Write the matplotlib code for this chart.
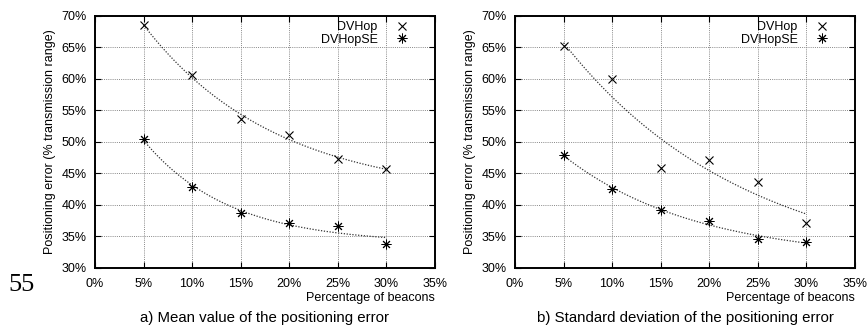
import numpy as np
import matplotlib
matplotlib.use("Agg")
import matplotlib.pyplot as plt
from matplotlib.ticker import FuncFormatter, MultipleLocator

# Percentage of beacons
beacons = [5, 10, 15, 20, 25, 30]

# a) mean value of the positioning error (% of transmission range)
mean_dvhop = [68.5, 60.6, 53.6, 51.1, 47.3, 45.7]
mean_dvhopse = [50.4, 42.9, 38.8, 37.2, 36.7, 33.8]

# b) standard deviation of the positioning error (% of transmission range)
std_dvhop = [65.2, 60.0, 45.9, 47.1, 43.6, 37.2]
std_dvhopse = [47.9, 42.6, 39.2, 37.4, 34.6, 34.1]

series_labels = ["DVHop", "DVHopSE"]
captions = ["a) Mean value of the positioning error",
            "b) Standard deviation of the positioning error"]
xlabel = "Percentage of beacons"
ylabel = "Positioning error (% transmission range)"

plt.rcParams["font.family"] = ["Liberation Sans", "DejaVu Sans"]


def exp_fit(x, y):
    """Least-squares fit of y = a*exp(-b*x) + c (grid over b, linear in a, c)."""
    x = np.asarray(x, float)
    y = np.asarray(y, float)
    best = None
    for b in np.linspace(0.001, 0.4, 2000):
        A = np.column_stack([np.exp(-b * x), np.ones_like(x)])
        coef, *_ = np.linalg.lstsq(A, y, rcond=None)
        err = np.sum((A @ coef - y) ** 2)
        if best is None or err < best[0]:
            best = (err, b, coef)
    _, b, (a, c) = best
    return lambda t: a * np.exp(-b * t) + c


W, H = 868, 327
fig = plt.figure(figsize=(W / 100, H / 100), dpi=100)
ax_pos = [[95 / W, 59 / H, 340 / W, 252 / H],
          [515 / W, 59 / H, 340 / W, 252 / H]]
panels = [(mean_dvhop, mean_dvhopse), (std_dvhop, std_dvhopse)]
pct = FuncFormatter(lambda v, _: f"{v:.0f}%")
asterisk = (8, 2, 0)
fs = 9

for pos, (s1, s2), cap in zip(ax_pos, panels, captions):
    ax = fig.add_axes(pos)
    xs = np.linspace(min(beacons), max(beacons), 200)
    for ys in (s1, s2):
        f = exp_fit(beacons, ys)
        ax.plot(xs, f(xs), ls=(0, (1, 1.3)), color="#333333", lw=0.9, zorder=2)
    ax.plot(beacons, s1, ls="none", marker="x", ms=6, mew=0.8,
            color="black", label=series_labels[0], zorder=3)
    ax.plot(beacons, s2, ls="none", marker=asterisk, ms=7, mew=0.7,
            color="black", label=series_labels[1], zorder=3)

    ax.set_xlim(0, 35)
    ax.set_ylim(30, 70)
    ax.xaxis.set_major_locator(MultipleLocator(5))
    ax.yaxis.set_major_locator(MultipleLocator(5))
    ax.xaxis.set_major_formatter(pct)
    ax.yaxis.set_major_formatter(pct)
    ax.grid(True, ls=(0, (1, 1.2)), color="#888888", lw=0.7)
    ax.set_axisbelow(True)
    ax.tick_params(direction="in", length=4, width=0.8, labelsize=fs,
                   top=True, right=True, colors="black")
    ax.tick_params(axis="x", pad=7)
    ax.tick_params(axis="y", pad=6)
    for sp in ax.spines.values():
        sp.set_linewidth(1.4)
    ax.set_ylabel(ylabel, fontsize=fs)
    ax.yaxis.set_label_coords(-45 / 340, 0.5)
    ax.yaxis.label.set_verticalalignment("center")
    ax.set_xlabel(xlabel, fontsize=fs)
    ax.xaxis.set_label_coords(1.0, -30 / 252)
    ax.xaxis.label.set_horizontalalignment("right")
    ax.xaxis.label.set_verticalalignment("center")

    ax.legend(loc="upper right", bbox_to_anchor=(1 - 20 / 340, 1),
              frameon=False, markerfirst=False,
              fontsize=fs, handlelength=1.3, handletextpad=1.3,
              labelspacing=0.05, borderaxespad=0.2, borderpad=0.2)

    ax.text(0.5, -50 / 252, cap, transform=ax.transAxes, ha="center",
            va="center", fontsize=10.8)

# page number
fig.text(8 / W, 1 - 285 / H, "55", family="Liberation Serif",
         fontsize=19, va="center", ha="left")

fig.savefig("out.png", dpi=100)
